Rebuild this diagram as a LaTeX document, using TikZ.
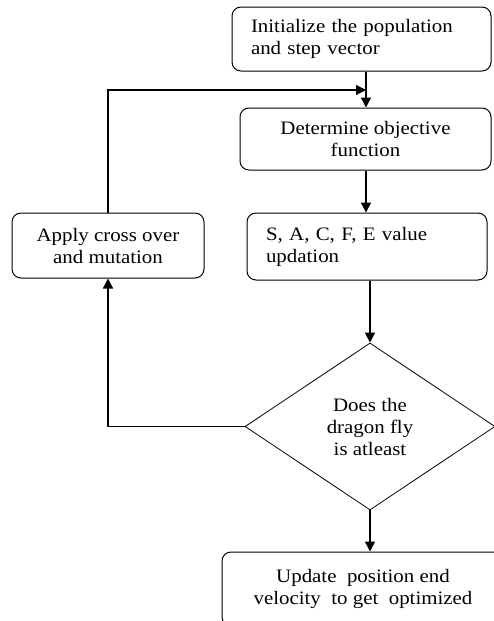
\documentclass[tikz,border=0pt]{standalone}
\usepackage{fontspec}
\setmainfont{Liberation Serif}[FakeStretch=1.1]
\usetikzlibrary{arrows.meta,shapes.geometric}
\begin{document}
\begin{tikzpicture}[x=1pt,y=-1pt,
  font=\fontsize{19}{22}\selectfont,
  box/.style={draw,line width=1pt,rounded corners=9pt,inner sep=0pt,
              minimum width=#1,align=center},
  leftbox/.style={draw,line width=1pt,rounded corners=9pt,inner ysep=0pt,
              inner xsep=19pt,text width=#1,align=left},
  decision/.style={draw,diamond,line width=0.8pt,inner sep=0pt,
              minimum width=250pt,minimum height=167pt,align=center},
  arrow/.style={line width=1.4pt,-{Triangle[length=10pt,width=10pt]}}]
\useasboundingbox (0,0) rectangle (493,621);

\node[leftbox=221pt,minimum height=64pt] (init) at (361.5,39)
  {Initialize the population\\and step vector};
\node[box=251pt,minimum height=62pt] (det) at (365.5,139)
  {Determine objective\\function};
\node[leftbox=202pt,minimum height=67pt] (upd) at (367,246.5)
  {S, A, C, F, E value\\updation};
\node[box=192pt,minimum height=65pt] (apply) at (108,245.5)
  {Apply cross over\\and mutation};
\node[decision] (dec) at (370,426.5)
  {Does the\\dragon fly\\is atleast};
\node[box=282pt,minimum height=74pt] (fin) at (363,589)
  {Update\ \ position end\\velocity\ \ to get\ \ optimized};

\coordinate (join) at (366,90);

\draw[arrow] (init.south -| join) -- (join |- det.north);
\draw[arrow] (join |- det.south) -- (join |- upd.north);
\draw[arrow] (dec.north |- upd.south) -- (dec.north);
\draw[arrow] (dec.south) -- (dec.south |- fin.north);
\draw[arrow] (dec.west) -| (apply.south);
\draw[arrow,line width=1.1pt] (apply.north) |- (join);
\end{tikzpicture}
\end{document}
